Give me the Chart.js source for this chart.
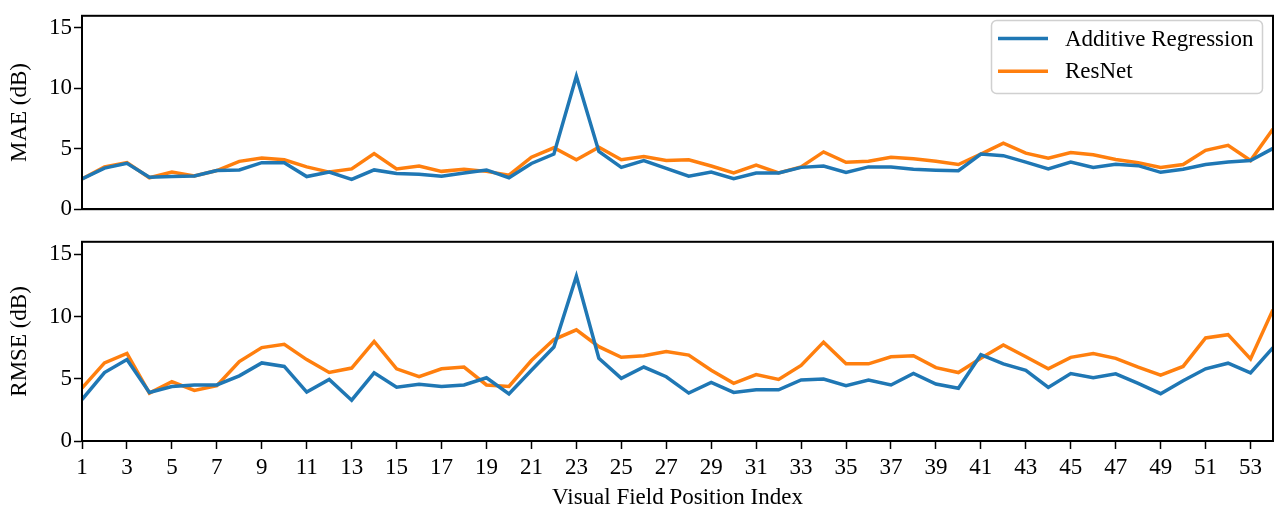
<!DOCTYPE html>
<html>
<head>
<meta charset="utf-8">
<script src="https://cdn.jsdelivr.net/npm/chart.js@4/dist/chart.umd.min.js"></script>
<style>
  html, body { margin: 0; padding: 0; background: #fff; }
  #wrap { position: relative; width: 1278px; height: 512px; }
  .box { position: absolute; left: 0; width: 1278px; }
  #top_box { top: 0; height: 225px; }
  #bottom_box { top: 226px; height: 286px; }
</style>
</head>
<body>
<div id="wrap">
  <div class="box" id="top_box"><canvas id="mae_chart"></canvas></div>
  <div class="box" id="bottom_box"><canvas id="rmse_chart"></canvas></div>
</div>
<script>
// visual field positions 1..54
var positions = [1,2,3,4,5,6,7,8,9,10,11,12,13,14,15,16,17,18,19,20,21,22,23,24,25,26,27,
                 28,29,30,31,32,33,34,35,36,37,38,39,40,41,42,43,44,45,46,47,48,49,50,51,52,53,54];
var xTickValues = [1,3,5,7,9,11,13,15,17,19,21,23,25,27,29,31,33,35,37,39,41,43,45,47,49,51,53];
var yTickValues = [0,5,10,15];

var maeAdditive = [2.5,3.4,3.8,2.65,2.7,2.75,3.2,3.25,3.85,3.85,2.7,3.07,2.47,3.25,2.95,2.9,2.73,3.0,
                   3.25,2.6,3.78,4.56,11.0,4.77,3.46,4.03,3.38,2.73,3.07,2.52,3.0,3.0,3.46,3.57,3.05,3.5,
                   3.5,3.3,3.23,3.18,4.56,4.43,3.9,3.33,3.9,3.46,3.72,3.6,3.05,3.3,3.7,3.9,4.03,5.03];
var maeResNet   = [2.5,3.5,3.85,2.6,3.07,2.75,3.2,3.96,4.24,4.09,3.5,3.07,3.33,4.6,3.33,3.57,3.13,3.3,
                   3.13,2.81,4.3,5.08,4.09,5.13,4.09,4.35,4.03,4.09,3.57,3.0,3.65,3.0,3.5,4.74,3.88,3.96,
                   4.3,4.17,3.96,3.7,4.56,5.47,4.64,4.22,4.69,4.5,4.11,3.85,3.46,3.7,4.87,5.29,4.03,6.64];
var rmseAdditive = [3.33,5.5,6.54,3.9,4.38,4.5,4.5,5.23,6.27,5.99,3.93,4.95,3.28,5.47,4.32,4.56,4.38,4.5,
                    5.08,3.78,5.68,7.55,13.23,6.64,5.03,5.94,5.16,3.85,4.71,3.9,4.11,4.11,4.9,4.97,4.45,4.9,
                    4.5,5.42,4.58,4.24,6.93,6.2,5.68,4.3,5.42,5.08,5.39,4.63,3.8,4.84,5.8,6.25,5.47,7.5];
var rmseResNet   = [4.24,6.27,7.03,3.85,4.77,4.06,4.45,6.38,7.5,7.76,6.54,5.5,5.86,8.0,5.8,5.16,5.8,5.94,
                    4.5,4.38,6.46,8.15,8.93,7.58,6.72,6.85,7.19,6.9,5.68,4.63,5.34,4.95,6.07,7.94,6.2,6.2,
                    6.77,6.85,5.89,5.5,6.64,7.71,6.77,5.8,6.72,7.03,6.64,5.94,5.29,5.99,8.28,8.54,6.59,10.55];

var seriesNames = ['Additive Regression','ResNet'];
var seriesColors = ['#1f77b4','#ff7f0e'];
var fontFamily = '"Liberation Serif", "Times New Roman", serif';

function toPoints(vals){
  var pts = [];
  for(var i=0;i<vals.length;i++){
    pts.push({x: positions[i], y: vals[i]});
  }
  return pts;
}

// black box round the plot area (all four spines)
var framePlugin = {
  id: 'frame',
  afterDatasetsDraw: function(chart){
    var a = chart.chartArea, ctx = chart.ctx;
    ctx.save();
    ctx.strokeStyle = '#000';
    ctx.lineWidth = 2;
    ctx.strokeRect(a.left, a.top, a.right - a.left, a.bottom - a.top);
    ctx.restore();
  }
};

// matplotlib style legend box, upper right
var legendPlugin = {
  id: 'mplLegend',
  afterDraw: function(chart){
    if(!chart.options.plugins.mplLegend || !chart.options.plugins.mplLegend.show) return;
    var ctx = chart.ctx, a = chart.chartArea;
    var bx = 991, by = 20, bw = a.right - 11 - bx, bh = 73;
    ctx.save();
    ctx.beginPath();
    ctx.roundRect(bx + 0.5, by + 0.5, bw, bh, 5);
    ctx.fillStyle = 'rgba(255,255,255,0.8)';
    ctx.fill();
    ctx.strokeStyle = '#d0d0d0';
    ctx.lineWidth = 1.5;
    ctx.stroke();
    ctx.font = '23px ' + fontFamily;
    ctx.textBaseline = 'middle';
    ctx.fillStyle = '#000';
    var ds = chart.data.datasets;
    for(var i=0;i<ds.length;i++){
      var yy = 38.5 + i*32.7;
      ctx.beginPath();
      ctx.moveTo(998, yy);
      ctx.lineTo(1048, yy);
      ctx.strokeStyle = ds[i].borderColor;
      ctx.lineWidth = 3.5;
      ctx.stroke();
      ctx.fillText(ds[i].label, 1065, yy + 1);
    }
    ctx.restore();
  }
};

function make_chart(canvasid, first, second, ytitle, isBottom){
  var ctx = document.getElementById(canvasid);
  var datasets = [first, second].map(function(vals, i){
    return {
      label: seriesNames[i],
      data: toPoints(vals),
      borderColor: seriesColors[i],
      backgroundColor: seriesColors[i],
      borderWidth: 3.5,
      pointRadius: 0,
      tension: 0,
      fill: false
    };
  });

  return new Chart(ctx, {
    type: 'line',
    data: { datasets: datasets },
    options: {
      responsive: true,
      maintainAspectRatio: false,
      animation: false,
      layout: { padding: { top: 10, right: 5, left: 0, bottom: 0 } },
      plugins: {
        legend: { display: false },
        tooltip: { enabled: false },
        mplLegend: { show: !isBottom }
      },
      scales: {
        x: {
          type: 'linear',
          min: 1,
          max: 54,
          afterBuildTicks: function(scale){
            scale.ticks = xTickValues.map(function(v){ return {value: v}; });
          },
          afterFit: function(scale){ scale.height = isBottom ? 71 : 10; },
          grid: { display: isBottom, drawOnChartArea: false, drawTicks: true, tickLength: 8, tickColor: '#000', tickWidth: 1.5 },
          border: { display: true, color: '#000', width: 2 },
          ticks: { display: isBottom, color: '#000', padding: 5, maxRotation: 0, autoSkip: false,
                   font: { family: fontFamily, size: 23 } },
          title: { display: isBottom, text: 'Visual Field Position Index', color: '#000',
                   padding: { top: 0, bottom: 0 }, font: { family: fontFamily, size: 23 } }
        },
        y: {
          min: 0,
          max: 16,
          afterBuildTicks: function(scale){
            scale.ticks = yTickValues.map(function(v){ return {value: v}; });
          },
          afterFit: function(scale){ scale.width = 82; },
          grid: { drawOnChartArea: false, drawTicks: true, tickLength: 8, tickColor: '#000', tickWidth: 1.5 },
          border: { display: true, color: '#000', width: 2 },
          ticks: { color: '#000', padding: 2, font: { family: fontFamily, size: 23 } },
          title: { display: true, text: ytitle, color: '#000',
                   padding: { top: 6, bottom: 0 }, font: { family: fontFamily, size: 23 } }
        }
      }
    },
    plugins: [framePlugin, legendPlugin]
  });
}

var maeChart = make_chart('mae_chart', maeAdditive, maeResNet, 'MAE (dB)', false);
var rmseChart = make_chart('rmse_chart', rmseAdditive, rmseResNet, 'RMSE (dB)', true);
</script>
</body>
</html>
